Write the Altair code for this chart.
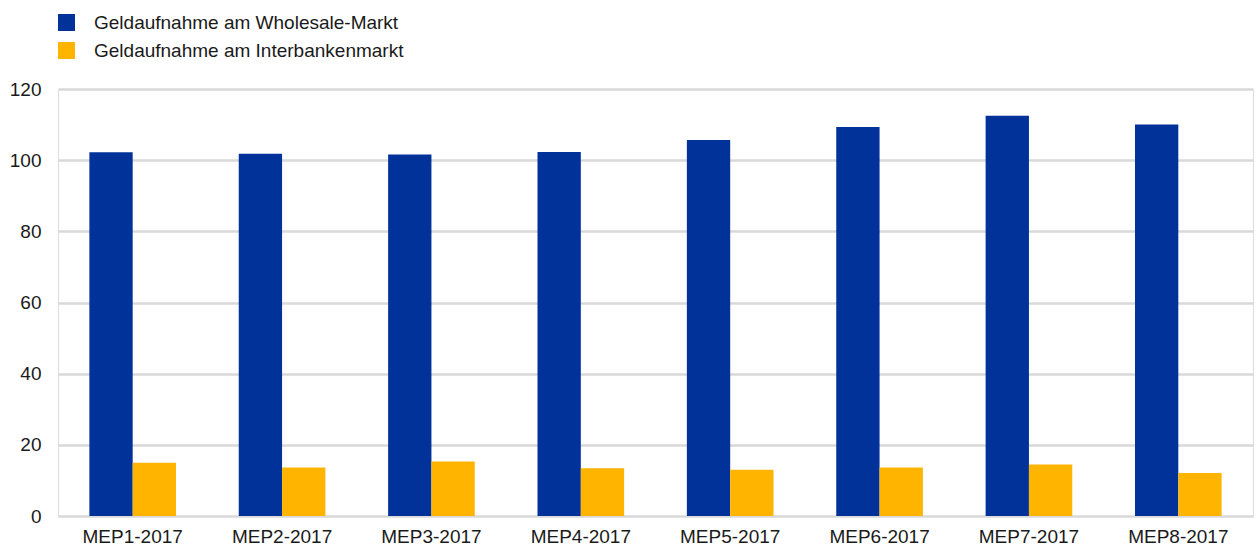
import altair as alt
import pandas as pd

categories = ["MEP1-2017", "MEP2-2017", "MEP3-2017", "MEP4-2017",
              "MEP5-2017", "MEP6-2017", "MEP7-2017", "MEP8-2017"]
series_names = ["Geldaufnahme am Wholesale-Markt", "Geldaufnahme am Interbankenmarkt"]
wholesale = [102.2, 101.8, 101.6, 102.3, 105.7, 109.3, 112.5, 110.0]
interbank = [15.0, 13.6, 15.3, 13.4, 13.0, 13.6, 14.5, 12.1]
colors = ["#003299", "#FFB400"]
y_ticks = [0, 20, 40, 60, 80, 100, 120]

rows = []
for c, w, i in zip(categories, wholesale, interbank):
    rows.append({"cat": c, "series": series_names[0], "value": w})
    rows.append({"cat": c, "series": series_names[1], "value": i})
df = pd.DataFrame(rows)

font = "Liberation Sans"
fs = 19
txt = "#1a1a1a"

chart = alt.Chart(df).mark_bar().encode(
    x=alt.X("cat:N", sort=categories, title=None,
            scale=alt.Scale(paddingInner=0.42, paddingOuter=0.21),
            axis=alt.Axis(labelAngle=0, ticks=False, domain=False, labelPadding=11,
                          labelFontSize=fs, labelColor=txt, labelFont=font)),
    xOffset=alt.XOffset("series:N", sort=series_names),
    y=alt.Y("value:Q", title=None,
            scale=alt.Scale(domain=[0, 120], nice=False),
            axis=alt.Axis(values=y_ticks, ticks=False, domain=False, labelPadding=17,
                          labelFontSize=fs, labelColor=txt, labelFont=font,
                          gridColor="#d9d9d9", gridWidth=2.5)),
    color=alt.Color("series:N", sort=series_names,
                    scale=alt.Scale(domain=series_names, range=colors),
                    legend=alt.Legend(title=None, orient="none", legendX=-1, legendY=-76,
                                      symbolType="square", symbolSize=289,
                                      symbolStrokeWidth=0, labelFontSize=fs,
                                      labelFont=font, labelColor=txt,
                                      labelOffset=18, rowPadding=8, labelLimit=0)),
).properties(
    width=1195, height=427,
    padding={"left": 58, "top": 89, "right": 6, "bottom": 30},
    autosize=alt.AutoSizeParams(type="none"),
).configure_view(
    stroke="#d9d9d9", strokeWidth=2.5
).configure(background="white")

chart.save("out.html", embed_options={"renderer": "svg", "actions": False})
